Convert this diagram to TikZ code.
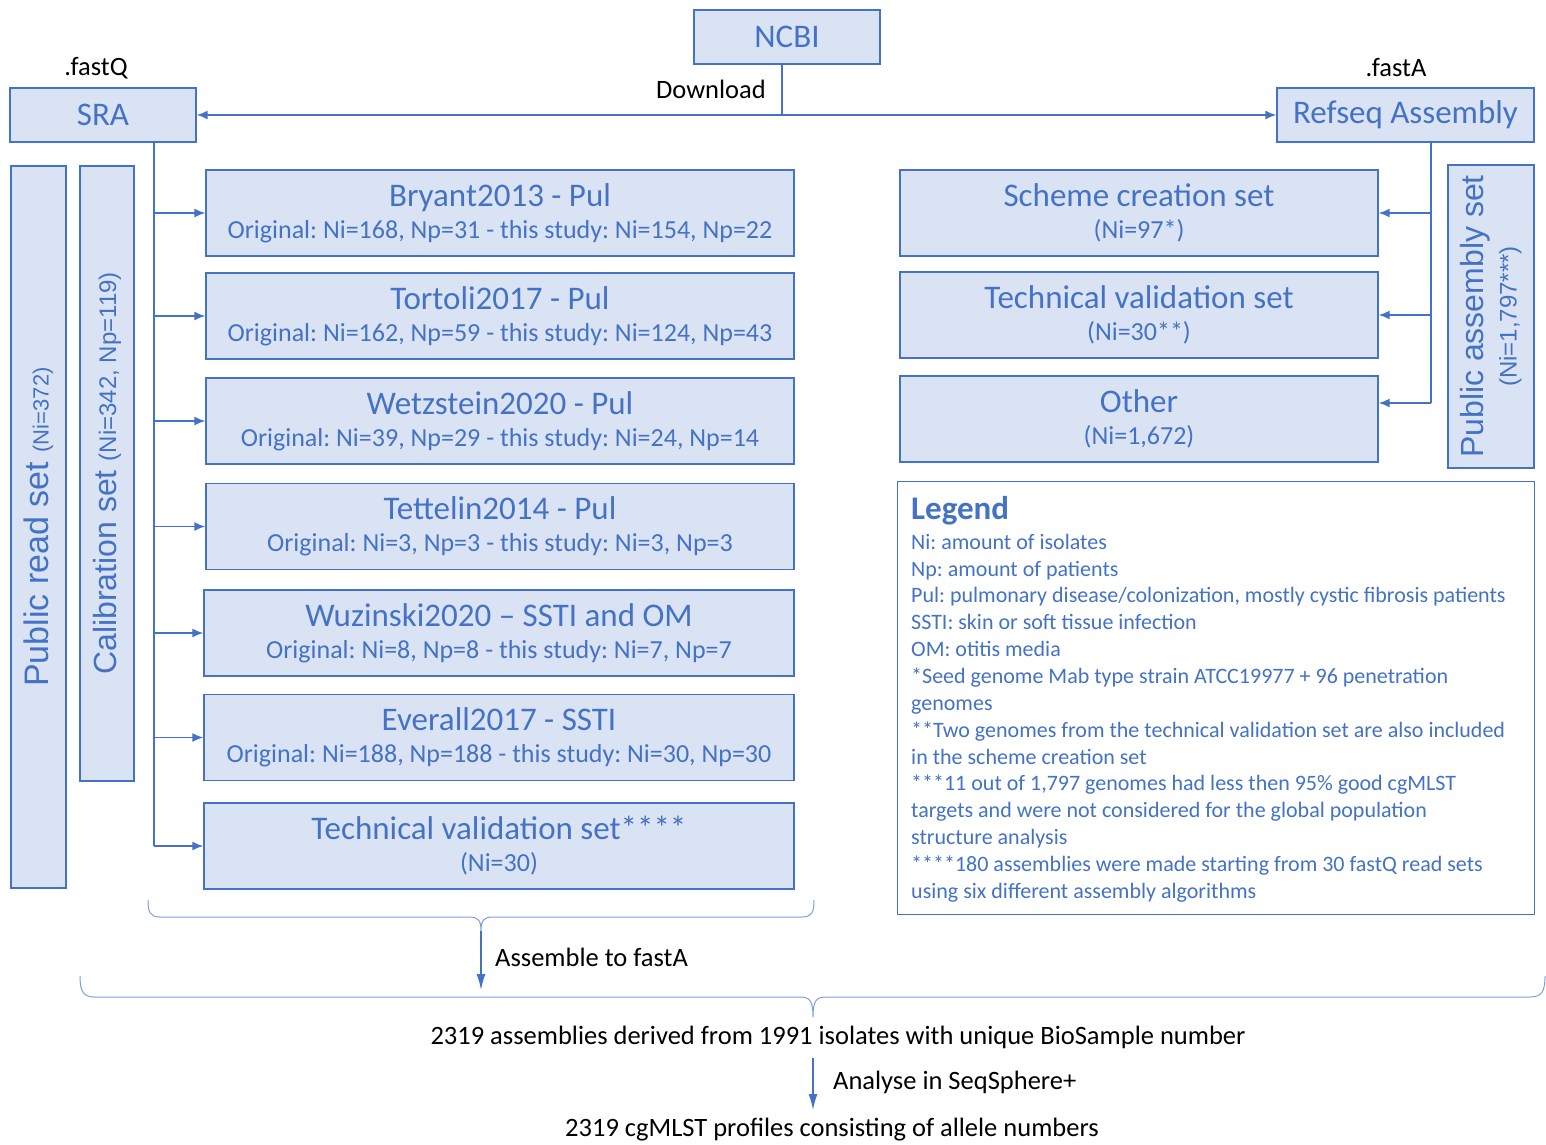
\documentclass[tikz,border=0pt]{standalone}
\usepackage{fontspec}
\setmainfont{Carlito}
\newfontfamily\arialf{Liberation Sans}
\usetikzlibrary{arrows.meta}
\definecolor{bblue}{HTML}{4472C4}
\definecolor{bfill}{HTML}{DAE3F3}
\definecolor{brc}{HTML}{7D9FD8}
\newcommand\fsz[2]{\fontsize{#1}{#2}\selectfont}
\frenchspacing
\begin{document}
\begin{tikzpicture}[x=1pt,y=-1pt,
  box/.style={draw=bblue, fill=bfill, line width=1.4pt, text=bblue, align=center, inner sep=0pt, font=\fsz{33}{38}},
  conn/.style={draw=bblue, line width=1.5pt},
  arr/.style={conn, -{Latex[length=11pt,width=9pt]}},
  bigarr/.style={conn, -{Latex[length=16pt,width=9pt]}},
  brace/.style={draw=brc, line width=1pt},
  lbl/.style={text=black, inner sep=0pt, font=\fsz{26.5}{30}},
]
\useasboundingbox (0,0) rectangle (1546,1144);

% top
\node[box, minimum width=186pt, minimum height=54pt] (ncbi) at (787,37) {NCBI};
\node[box, minimum width=186pt, minimum height=54pt] (sra) at (103,115) {SRA};
\node[box, minimum width=257pt, minimum height=54pt] (refseq) at (1405.5,115) {Refseq Assembly};
\node[lbl, anchor=base] (fq) at (96,75) {.fastQ};
\node[lbl, anchor=base] (fa) at (1396,76) {.fastA};
\node[lbl, anchor=base east] (dl) at (766,98) {Download};

\coordinate (nd) at ([xshift=-5pt]ncbi.south);
\draw[arr] (nd) |- (sra.east);
\draw[arr] (nd) |- (refseq.west);

% vertical set boxes
\node[box, rotate=90, minimum width=722pt, minimum height=55pt, font=\arialf] (pubread) at (38.5,527)
  {\fsz{34}{40}Public read set \fsz{22}{26}(Ni=372)};
\node[box, rotate=90, minimum width=615pt, minimum height=54pt, font=\arialf] (calib) at (107,473.5)
  {\fsz{32}{38}Calibration set \fsz{24}{28}(Ni=342, Np=119)};
\node[box, rotate=90, minimum width=303pt, minimum height=86pt, font=\arialf] (pubasm) at (1491,316.5)
  {\fsz{32}{36}Public assembly set\\[8pt]\fsz{24}{28}(Ni=1,797***)};

% left study boxes
\node[box, minimum width=588pt, minimum height=86pt] (b1) at (500,213)
  {Bryant2013 - Pul\\[-6pt]\fsz{26}{30}Original: Ni=168, Np=31 - this study: Ni=154, Np=22};
\node[box, minimum width=588pt, minimum height=86pt] (b2) at (500,316)
  {Tortoli2017 - Pul\\[-6pt]\fsz{26}{30}Original: Ni=162, Np=59 - this study: Ni=124, Np=43};
\node[box, minimum width=588pt, minimum height=86pt] (b3) at (500,421)
  {Wetzstein2020 - Pul\\[-6pt]\fsz{26}{30}Original: Ni=39, Np=29 - this study: Ni=24, Np=14};
\node[box, minimum width=588pt, minimum height=86pt] (b4) at (500,526.5)
  {Tettelin2014 - Pul\\[-6pt]\fsz{26}{30}Original: Ni=3, Np=3 - this study: Ni=3, Np=3};
\node[box, minimum width=590pt, minimum height=86pt] (b5) at (499,633)
  {Wuzinski2020 – SSTI and OM\\[-6pt]\fsz{26}{30}Original: Ni=8, Np=8 - this study: Ni=7, Np=7};
\node[box, minimum width=590pt, minimum height=86pt] (b6) at (499,737.5)
  {Everall2017 - SSTI\\[-6pt]\fsz{26}{30}Original: Ni=188, Np=188 - this study: Ni=30, Np=30};
\node[box, minimum width=590pt, minimum height=86pt] (b7) at (499,846)
  {Technical validation set****\\[-6pt]\fsz{26}{30}(Ni=30)};

\coordinate (lt) at ([xshift=51pt]sra.south);
\draw[conn] (lt) -- (lt |- b7.west);
\foreach \b in {b1,b2,b3,b4,b5,b6,b7}
  \draw[arr] (lt |- \b.west) -- (\b.west);

% right boxes
\node[box, minimum width=478pt, minimum height=86pt] (r1) at (1139,213)
  {Scheme creation set\\[-6pt]\fsz{26}{30}(Ni=97*)};
\node[box, minimum width=478pt, minimum height=86pt] (r2) at (1139,315)
  {Technical validation set\\[-6pt]\fsz{26}{30}(Ni=30**)};
\node[box, minimum width=478pt, minimum height=86pt] (r3) at (1139,419)
  {Other\\[-6pt]\fsz{26}{30}(Ni=1,672)};

\coordinate (rt) at ([xshift=25.5pt]refseq.south);
\coordinate (r3a) at ([yshift=16pt]r3.east);
\draw[conn] (rt) -- (rt |- r3a);
\draw[arr] (rt |- r1.east) -- (r1.east);
\draw[arr] (rt |- r2.east) -- (r2.east);
\draw[arr] (rt |- r3a) -- (r3a);

% legend
\node[draw=bblue, line width=1pt, fill=white, minimum width=637pt, minimum height=433pt, inner sep=0pt] (legend) at (1215.5,697.5) {};
\node[text=bblue, inner sep=0pt, align=left, anchor=north west, font=\fsz{22}{26.85}] (legtext) at (911,496)
  {{\fsz{33}{36}\bfseries Legend}\\[3pt]
   Ni: amount of isolates\\
   Np: amount of patients\\
   Pul: pulmonary disease/colonization, mostly cystic fibrosis patients\\
   SSTI: skin or soft tissue infection\\
   OM: otitis media\\
   {}*Seed genome Mab type strain ATCC19977 + 96 penetration\\
   genomes\\
   {}**Two genomes from the technical validation set are also included\\
   in the scheme creation set\\
   {}***11 out of 1,797 genomes had less then 95\% good cgMLST\\
   targets and were not considered for the global population\\
   structure analysis\\
   {}****180 assemblies were made starting from 30 fastQ read sets\\
   using six different assembly algorithms};

% braces and bottom flow
\draw[brace] (148,900) .. controls (148,912) and (150,917) .. (160,917) -- (469,917)
  .. controls (478,917) and (481,920) .. (481,931) coordinate (t1)
  .. controls (481,920) and (484,917) .. (493,917) -- (802,917)
  .. controls (812,917) and (814,912) .. (814,900);
\draw[brace] (80,976) .. controls (80,991) and (83,997) .. (95,997) -- (800,997)
  .. controls (810,997) and (813,1001) .. (813,1017) coordinate (t2)
  .. controls (813,1001) and (816,997) .. (826,997) -- (1530,997)
  .. controls (1542,997) and (1545,991) .. (1545,976);
\coordinate (a1e) at (481,990);
\draw[bigarr] (t1) -- (a1e);
\node[lbl, anchor=west] (asm) at (495,957) {Assemble to fastA};

\node[lbl] (assm) at (838,1037) {2319 assemblies derived from 1991 isolates with unique BioSample number};
\coordinate (a2s) at (813,1058);
\coordinate (a2e) at (813,1110);
\draw[bigarr] (a2s) -- (a2e);
\node[lbl, anchor=west] (ana) at (833,1082) {Analyse in SeqSphere+};
\node[lbl] (prof) at (832,1130) {2319 cgMLST profiles consisting of allele numbers};
\end{tikzpicture}
\end{document}
